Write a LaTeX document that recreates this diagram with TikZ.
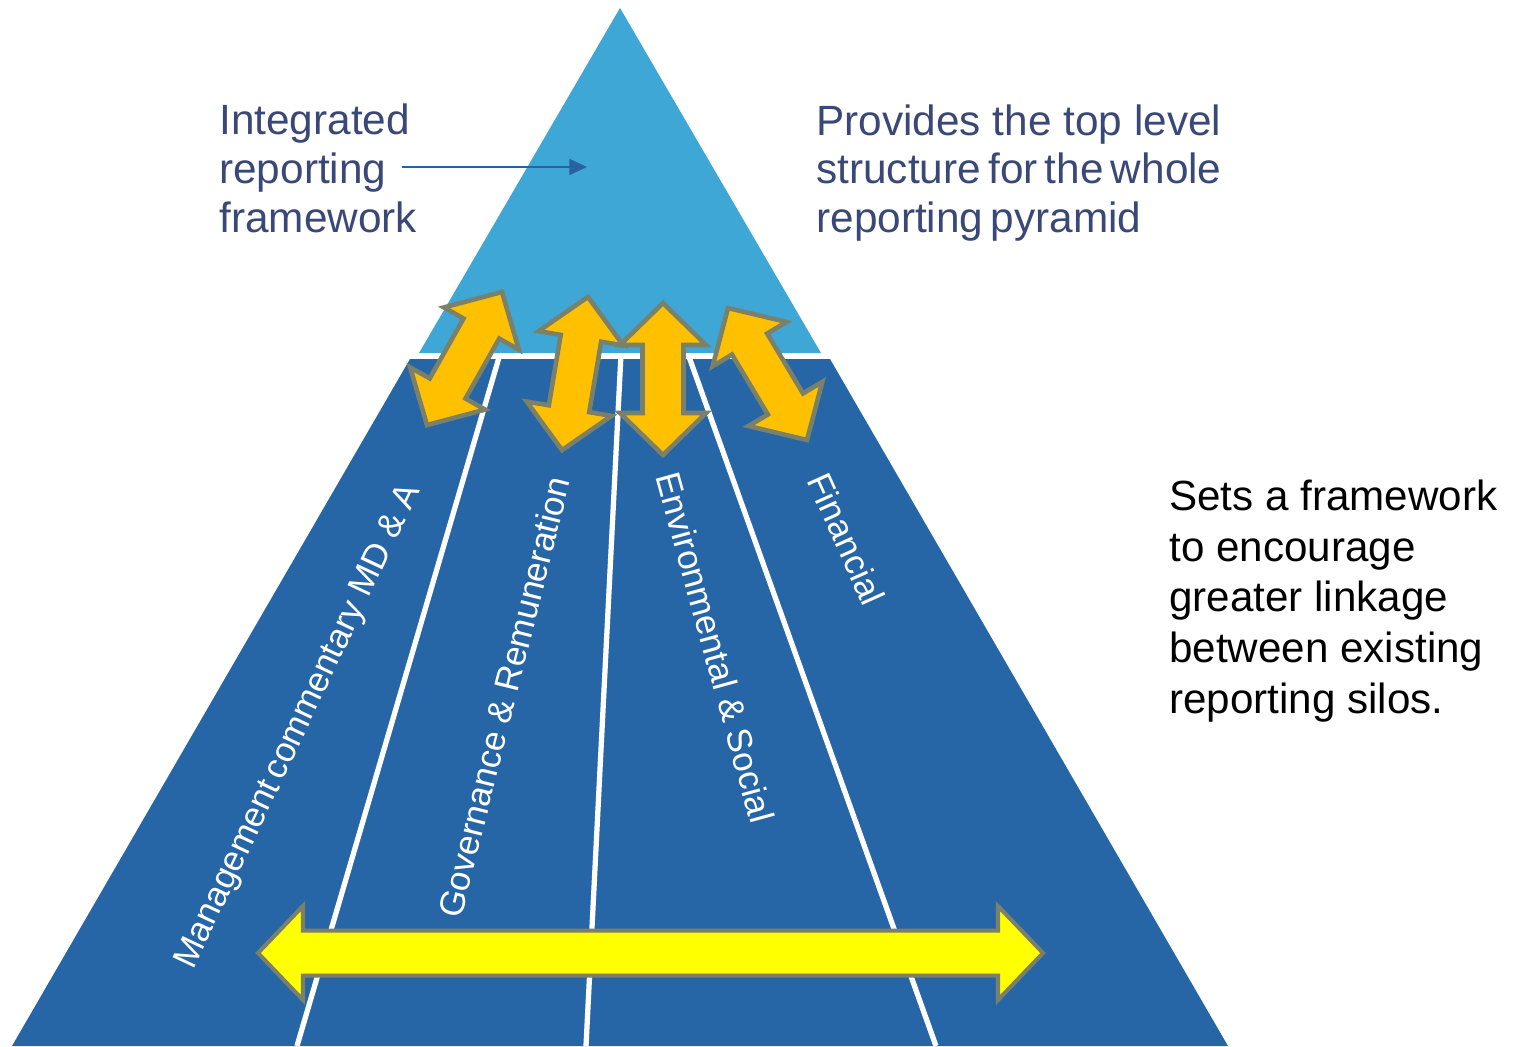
\documentclass[tikz,border=0pt]{standalone}
\usepackage{fontspec}
\setmainfont{Liberation Sans}
\usetikzlibrary{arrows.meta}
\definecolor{lightblue}{RGB}{62,167,214}
\definecolor{darkblue}{RGB}{39,102,166}
\definecolor{textblue}{RGB}{58,72,120}
\definecolor{arroworange}{RGB}{255,192,0}
\definecolor{arrowyellow}{RGB}{255,255,0}
\definecolor{arrowedge}{RGB}{123,128,104}
\definecolor{pointerblue}{RGB}{40,98,160}
% #1 style, #2 centre, #3 angle, #4 half length, #5 head length, #6 head half-width, #7 shaft half-width
\newcommand\dblarrow[7]{%
  \path[#1, shift={#2}, rotate=#3]
    (#4,0) -- (#4-#5,#6) -- (#4-#5,#7) -- (-#4+#5,#7) -- (-#4+#5,#6) -- (-#4,0)
    -- (-#4+#5,-#6) -- (-#4+#5,-#7) -- (#4-#5,-#7) -- (#4-#5,-#6) -- cycle;}
\begin{document}
\begin{tikzpicture}[x=0.02cm,y=-0.02cm,
  bluetext/.style={anchor=base west, inner sep=0, text=textblue, font=\fontsize{24.1}{28}\selectfont},
  blacktext/.style={anchor=base west, inner sep=0, text=black, font=\fontsize{24}{28}\selectfont},
  silolabel/.style={anchor=base west, inner sep=0, text=white, font=\fontsize{19.9}{24}\selectfont},
  divider/.style={draw=white, line width=3pt},
  orangearrow/.style={fill=arroworange, draw=arrowedge, line width=2.6pt, line join=miter},
  yellowarrow/.style={fill=arrowyellow, draw=arrowedge, line width=2.3pt, line join=miter},
  pointer/.style={draw=pointerblue, line width=1.2pt, -{Triangle[length=10pt,width=9pt]}},
]
\useasboundingbox (0,0) rectangle (1513,1046);
% pyramid
\fill[lightblue] (620,8) -- (821,353) -- (419,353) -- cycle;
\fill[darkblue] (410,359) -- (830,359) -- (1228,1046) -- (12,1046) -- cycle;
% dividers
\coordinate (d1t) at (500,354); \coordinate (d1b) at (297,1046);
\coordinate (d2t) at (621,354); \coordinate (d2b) at (586,1046);
\coordinate (d3t) at (688,354); \coordinate (d3b) at (936,1046);
\draw[divider] (d1t) -- (d1b);
\draw[divider] (d2t) -- (d2b);
\draw[divider] (d3t) -- (d3b);
% silo labels
\node[silolabel, rotate=64.7] (mgmt) at (193,971) {Management\hspace{0.15em}commentary MD \& A};
\node[silolabel, rotate=76] (gov) at (461,920) {Governance \& Remuneration};
\node[silolabel, rotate=-74.6] (env) at (655,476) {Environmental \& Social};
\node[silolabel, rotate=-65.8] (fin) at (806,480) {Financial};
% linkage arrows
\dblarrow{orangearrow}{(464.5,358.5)}{60.6}{76.4}{42}{43}{20.5}
\dblarrow{orangearrow}{(575,373.5)}{80.4}{77.7}{42}{43}{20.5}
\dblarrow{orangearrow}{(663,379)}{90}{76}{42}{43}{20.5}
\dblarrow{orangearrow}{(767.5,374)}{120.9}{76.9}{42}{43}{20.5}
\dblarrow{yellowarrow}{(650.5,953)}{0}{392.5}{45}{47}{22.5}
% left text
\node[bluetext] (irf1) at (219,134) {Integrated};
\node[bluetext] (irf2) at (219,183.5) {reporting};
\node[bluetext] (irf3) at (219,232.5) {framework};
\coordinate (ptrstart) at (402,167);
\coordinate (ptrend) at (587,167);
\draw[pointer] (ptrstart) -- (ptrend);
% right text
\node[bluetext] (top1) at (816,135) {Provides the top level};
\node[bluetext] (top2) at (816,183.5) {\spaceskip=0.17em structure for the whole};
\node[bluetext] (top3) at (816,232.5) {\spaceskip=0.17em reporting pyramid};
\node[blacktext] (sets1) at (1169,510) {Sets a framework};
\node[blacktext] (sets2) at (1169,561) {to encourage};
\node[blacktext] (sets3) at (1169,611.5) {greater linkage};
\node[blacktext] (sets4) at (1169,662.5) {between existing};
\node[blacktext] (sets5) at (1169,713) {reporting silos.};
\end{tikzpicture}
\end{document}
